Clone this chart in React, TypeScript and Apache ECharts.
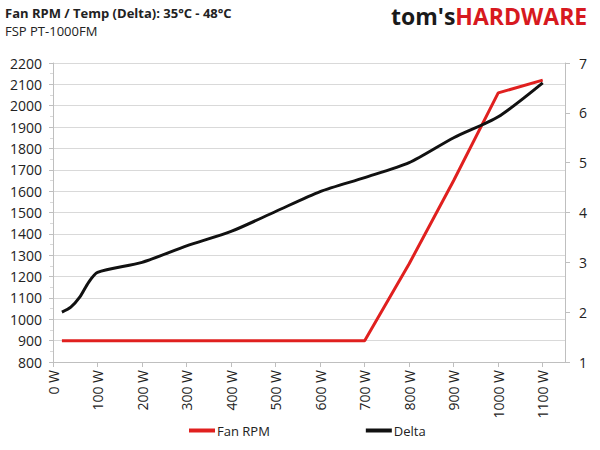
import React, { useEffect, useRef } from "react";
import * as echarts from "echarts";

const loads = [20, 40, 60, 80, 100, 200, 300, 400, 500, 600, 700, 800, 900, 1000, 1100];
const fanRpm = [900, 900, 900, 900, 900, 900, 900, 900, 900, 900, 900, 1260, 1650, 2060, 2120];
const delta = [2.0, 2.1, 2.3, 2.6, 2.8, 3.0, 3.33, 3.62, 4.02, 4.42, 4.7, 5.0, 5.5, 5.92, 6.6];
const titleText = "Fan RPM / Temp (Delta): 35°C - 48°C";
const subtitleText = "FSP PT-1000FM";

const FONT = "'Open Sans', 'Noto Sans', sans-serif";

export default function App() {
  const ref = useRef<HTMLDivElement>(null);
  useEffect(() => {
    if (!ref.current) return;
    const chart = echarts.init(ref.current, null, { renderer: "svg" });
    chart.setOption({
      animation: false,
      backgroundColor: "#ffffff",
      textStyle: { fontFamily: FONT },
      graphic: [
        {
          type: "text",
          left: 5,
          top: 6,
          style: { text: titleText, font: `bold 13px ${FONT}`, fill: "#222" },
        },
        {
          type: "text",
          left: 5,
          top: 24,
          style: { text: subtitleText, font: `13px ${FONT}`, fill: "#222" },
        },
        {
          type: "text",
          left: 391,
          top: 4,
          style: {
            text: "{a|tom's}{b|HARDWARE}",
            rich: {
              a: { font: `bold 23px ${FONT}`, fill: "#1a1a1a" },
              b: { font: `bold 23px ${FONT}`, fill: "#d71920" },
            },
          },
        },
      ],
      legend: {
        bottom: 8,
        left: 184,
        itemGap: 96,
        itemWidth: 26,
        itemHeight: 4,
        icon: "rect",
        textStyle: { fontSize: 13, color: "#222", fontFamily: FONT, padding: [0, 0, 0, -3] },
        data: ["Fan RPM", "Delta"],
      },
      grid: { left: 53, right: 35, top: 63, bottom: 88 },
      xAxis: {
        type: "value",
        min: 0,
        max: 1150,
        interval: 100,
        axisLine: { show: true, lineStyle: { color: "#bfbfbf" } },
        axisTick: { show: true, length: 5, lineStyle: { color: "#bfbfbf" } },
        splitLine: { show: false },
        axisLabel: {
          rotate: 90,
          fontSize: 14,
          color: "#222",
          margin: 8,
          showMaxLabel: false,
          formatter: (v: number) => (v % 100 === 0 ? `${v} W` : ""),
        },
      },
      yAxis: [
        {
          type: "value",
          min: 800,
          max: 2200,
          interval: 100,
          axisLine: { show: true, lineStyle: { color: "#bfbfbf" } },
          axisTick: { show: true, length: 4, lineStyle: { color: "#bfbfbf" } },
          minorTick: { show: true, splitNumber: 2, length: 3, lineStyle: { color: "#d9d9d9" } },
          splitLine: { show: true, lineStyle: { color: "#d9d9d9", width: 1 } },
          axisLabel: { fontSize: 14, color: "#222", margin: 11, formatter: (v: number) => String(v) },
        },
        {
          type: "value",
          min: 1,
          max: 7,
          interval: 1,
          position: "right",
          axisLine: { show: true, lineStyle: { color: "#bfbfbf" } },
          axisTick: { show: true, length: 5, lineStyle: { color: "#bfbfbf" } },
          splitLine: { show: false },
          axisLabel: { fontSize: 14, color: "#222", margin: 14 },
        },
      ],
      series: [
        {
          name: "Fan RPM",
          type: "line",
          yAxisIndex: 0,
          data: loads.map((x, i) => [x, fanRpm[i]]),
          showSymbol: false,
          symbol: "none",
          lineStyle: { color: "#e0201f", width: 3 },
          itemStyle: { color: "#e0201f" },
        },
        {
          name: "Delta",
          type: "line",
          yAxisIndex: 1,
          data: loads.map((x, i) => [x, delta[i]]),
          showSymbol: false,
          symbol: "none",
          smooth: 0.25,
          lineStyle: { color: "#111111", width: 3 },
          itemStyle: { color: "#111111" },
        },
      ],
    });
    return () => chart.dispose();
  }, []);
  return <div ref={ref} style={{ width: 600, height: 450, position: "absolute", left: 0, top: 0 }} />;
}
